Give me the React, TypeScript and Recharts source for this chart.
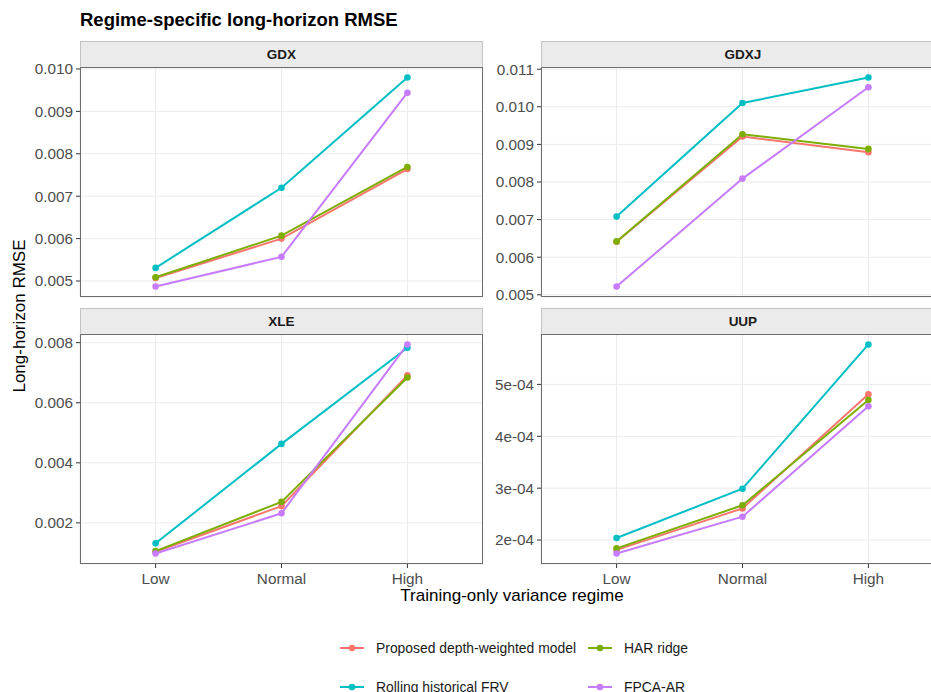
import { LineChart, Line, XAxis, YAxis, CartesianGrid } from 'recharts'

const REGIMES = ['Low', 'Normal', 'High']

const MODELS = ['Proposed depth-weighted model', 'HAR ridge', 'Rolling historical FRV', 'FPCA-AR']
const COLORS = ['#F8766D', '#7CAE00', '#00BFC4', '#C77CFF']
const KEYS = ['proposed', 'har', 'rolling', 'fpca']

// GDX
const GDX_PROPOSED = [0.00507, 0.006, 0.00764]
const GDX_HAR = [0.00509, 0.00607, 0.00769]
const GDX_ROLLING = [0.00531, 0.0072, 0.0098]
const GDX_FPCA = [0.00487, 0.00557, 0.00944]
const GDX_TICKS = [0.005, 0.006, 0.007, 0.008, 0.009, 0.01]

// GDXJ
const GDXJ_PROPOSED = [0.00641, 0.00921, 0.00879]
const GDXJ_HAR = [0.00642, 0.00927, 0.00888]
const GDXJ_ROLLING = [0.00708, 0.0101, 0.01078]
const GDXJ_FPCA = [0.00522, 0.00809, 0.01052]
const GDXJ_TICKS = [0.005, 0.006, 0.007, 0.008, 0.009, 0.01, 0.011]

// XLE
const XLE_PROPOSED = [0.00104, 0.00256, 0.00691]
const XLE_HAR = [0.00106, 0.0027, 0.00684]
const XLE_ROLLING = [0.00132, 0.00463, 0.00783]
const XLE_FPCA = [0.00098, 0.00232, 0.00794]
const XLE_TICKS = [0.002, 0.004, 0.006, 0.008]

// UUP
const UUP_PROPOSED = [1.81e-4, 2.61e-4, 4.81e-4]
const UUP_HAR = [1.84e-4, 2.67e-4, 4.7e-4]
const UUP_ROLLING = [2.04e-4, 2.99e-4, 5.77e-4]
const UUP_FPCA = [1.74e-4, 2.45e-4, 4.58e-4]
const UUP_TICKS = [2e-4, 3e-4, 4e-4, 5e-4]

const FONT = '"Liberation Sans", Arial, sans-serif'
const PANEL_W = 403
const PANEL_H = 230
const STRIP_H = 26
const EDGE = 12 // room so edge tick labels are not clipped

function rows(proposed: number[], har: number[], rolling: number[], fpca: number[]) {
  return REGIMES.map((r, i) => ({
    regime: r,
    proposed: proposed[i],
    har: har[i],
    rolling: rolling[i],
    fpca: fpca[i],
  }))
}

const fixed3 = (v: number) => v.toFixed(3)
const sci = (v: number) => {
  const [m, e] = v.toExponential(0).split('e')
  const n = Number(e)
  return `${m}e${n < 0 ? '-' : '+'}${String(Math.abs(n)).padStart(2, '0')}`
}

interface PanelProps {
  title: string
  left: number
  top: number
  data: any[]
  ticks: number[]
  fmt: (v: number) => string
  yWidth: number
  showX: boolean
}

function Panel({ title, left, top, data, ticks, fmt, yWidth, showX }: PanelProps) {
  const all = data.flatMap(d => KEYS.map(k => d[k] as number))
  const lo = Math.min(...all)
  const hi = Math.max(...all)
  const pad = (hi - lo) * 0.05
  const xh = showX ? 32 : 0
  const mb = showX ? 0 : EDGE

  return (
    <>
      <div
        style={{
          position: 'absolute', left, top: top - STRIP_H, width: PANEL_W, height: STRIP_H,
          background: '#EBEBEB', border: '1px solid #C4C4C4', borderBottom: 'none', boxSizing: 'border-box',
          display: 'flex', alignItems: 'center', justifyContent: 'center',
          fontWeight: 700, fontSize: 13.5, color: '#1A1A1A',
        }}
      >
        {title}
      </div>
      <div style={{ position: 'absolute', left: left - yWidth, top: top - EDGE }}>
        <LineChart
          width={yWidth + PANEL_W}
          height={EDGE + PANEL_H + xh + mb}
          data={data}
          margin={{ top: EDGE, right: 0, bottom: mb, left: 0 }}
        >
          <CartesianGrid stroke="#EBEBEB" strokeWidth={1} />
          <XAxis
            dataKey="regime"
            hide={!showX}
            height={xh}
            padding={{ left: 75.6, right: 75.6 }}
            axisLine={false}
            interval={0}
            tickSize={4}
            tickMargin={5}
            tickLine={{ stroke: '#333333' }}
            tick={{ fill: '#4D4D4D', fontSize: 15.3 }}
          />
          <YAxis
            type="number"
            domain={[lo - pad, hi + pad]}
            allowDataOverflow
            ticks={ticks}
            interval={0}
            tickFormatter={fmt}
            width={yWidth}
            axisLine={false}
            tickSize={4}
            tickMargin={3}
            tickLine={{ stroke: '#333333' }}
            tick={{ fill: '#4D4D4D', fontSize: 15.3 }}
          />
          {KEYS.map((k, i) => (
            <Line key={k} type="linear" dataKey={k} stroke={COLORS[i]} strokeWidth={2} dot={false} isAnimationActive={false} />
          ))}
          {KEYS.map((k, i) => (
            <Line
              key={k + '-pt'}
              type="linear"
              dataKey={k}
              stroke="none"
              dot={{ r: 3.3, fill: COLORS[i], stroke: 'none' }}
              activeDot={false}
              isAnimationActive={false}
            />
          ))}
        </LineChart>
      </div>
      <div
        style={{
          position: 'absolute', left, top, width: PANEL_W, height: PANEL_H,
          border: '1px solid #6E6E6E', boxSizing: 'border-box', pointerEvents: 'none',
        }}
      />
    </>
  )
}

function LegendItem({ i, left, top }: { i: number; left: number; top: number }) {
  return (
    <div style={{ position: 'absolute', left, top: top - 10, height: 20, display: 'flex', alignItems: 'center' }}>
      <svg width={24} height={10} style={{ marginRight: 12 }}>
        <line x1={0} y1={5} x2={24} y2={5} stroke={COLORS[i]} strokeWidth={2} />
        <circle cx={12} cy={5} r={3.3} fill={COLORS[i]} />
      </svg>
      <span style={{ fontSize: 13.9, color: '#1A1A1A', whiteSpace: 'nowrap' }}>{MODELS[i]}</span>
    </div>
  )
}

export default function App() {
  return (
    <div
      style={{
        position: 'absolute', left: 0, top: 0, width: 931, height: 692, overflow: 'hidden',
        background: '#FFFFFF', fontFamily: FONT,
      }}
    >
      <div style={{ position: 'absolute', left: 80, top: 9, fontSize: 18.5, fontWeight: 700, color: '#000' }}>
        Regime-specific long-horizon RMSE
      </div>

      <Panel title="GDX" left={80} top={67} data={rows(GDX_PROPOSED, GDX_HAR, GDX_ROLLING, GDX_FPCA)} ticks={GDX_TICKS} fmt={fixed3} yWidth={80} showX={false} />
      <Panel title="GDXJ" left={541.4} top={67} data={rows(GDXJ_PROPOSED, GDXJ_HAR, GDXJ_ROLLING, GDXJ_FPCA)} ticks={GDXJ_TICKS} fmt={fixed3} yWidth={60} showX={false} />
      <Panel title="XLE" left={80} top={334} data={rows(XLE_PROPOSED, XLE_HAR, XLE_ROLLING, XLE_FPCA)} ticks={XLE_TICKS} fmt={fixed3} yWidth={80} showX />
      <Panel title="UUP" left={541.4} top={334} data={rows(UUP_PROPOSED, UUP_HAR, UUP_ROLLING, UUP_FPCA)} ticks={UUP_TICKS} fmt={sci} yWidth={60} showX />

      <div
        style={{
          position: 'absolute', left: 26, top: 315.5, transform: 'rotate(-90deg)', transformOrigin: '0 0',
          fontSize: 17, color: '#000', whiteSpace: 'nowrap',
        }}
      >
        <span style={{ position: 'absolute', left: 0, top: -16, transform: 'translateX(-50%)' }}>Long-horizon RMSE</span>
      </div>

      <div style={{ position: 'absolute', left: 312, width: 400, top: 586, textAlign: 'center', fontSize: 17, color: '#000' }}>
        Training-only variance regime
      </div>

      <LegendItem i={0} left={340} top={648} />
      <LegendItem i={1} left={588} top={648} />
      <LegendItem i={2} left={340} top={687} />
      <LegendItem i={3} left={588} top={687} />
    </div>
  )
}
